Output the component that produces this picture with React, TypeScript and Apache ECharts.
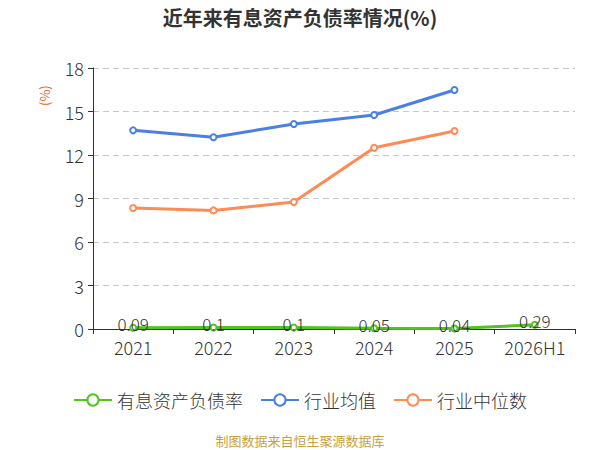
import { useEffect, useRef } from 'react';
import * as echarts from 'echarts';

const categories = ['2021', '2022', '2023', '2024', '2025', '2026H1'];
const debtRatio = [0.09, 0.1, 0.1, 0.05, 0.04, 0.29];
const industryMean = [13.7, 13.22, 14.14, 14.76, 16.48];
const industryMedian = [8.34, 8.18, 8.76, 12.5, 13.66];
const yTicks = { min: 0, max: 18, interval: 3 };

export default function App() {
  const chartRef = useRef<HTMLDivElement | null>(null);

  useEffect(() => {
    if (!chartRef.current) {
      return;
    }
    const chart = echarts.init(chartRef.current, undefined, { renderer: 'svg' });
    const font = '"Microsoft YaHei", "Noto Sans CJK SC", sans-serif';
    chart.setOption({
      animation: false,
      textStyle: { fontFamily: font },
      title: {
        text: '近年来有息资产负债率情况(%)',
        left: 'center',
        top: 2,
        textStyle: { fontSize: 20, fontWeight: 'bold', color: '#333', fontFamily: font },
      },
      grid: { left: 93, right: 25, top: 68, bottom: 121 },
      legend: {
        bottom: 36,
        left: 'center',
        itemWidth: 38,
        itemHeight: 14,
        itemGap: 17,
        textStyle: { fontSize: 18, color: '#333', fontFamily: font, fontWeight: 300 },
        data: ['有息资产负债率', '行业均值', '行业中位数'],
      },
      graphic: [
        {
          type: 'text',
          x: 38,
          y: 106,
          rotation: Math.PI / 2,
          style: { text: '(%)', fill: '#e8622c', fontSize: 13, fontFamily: font },
        },
        {
          type: 'text',
          left: 'center',
          top: 434,
          style: { text: '制图数据来自恒生聚源数据库', fill: '#c9a13c', fontSize: 13, fontFamily: font },
        },
      ],
      xAxis: {
        type: 'category',
        data: categories,
        boundaryGap: true,
        axisLine: { lineStyle: { color: '#333', width: 1 } },
        axisTick: { show: true, alignWithLabel: false, lineStyle: { color: '#333' } },
        axisLabel: { fontSize: 18, color: '#333', margin: 9, fontWeight: 300 },
      },
      yAxis: {
        type: 'value',
        min: yTicks.min,
        max: yTicks.max,
        interval: yTicks.interval,
        axisLine: { show: true, lineStyle: { color: '#333', width: 1 } },
        axisTick: { show: true, lineStyle: { color: '#333' } },
        axisLabel: { fontSize: 18, color: '#333', margin: 9, fontWeight: 300 },
        splitLine: { lineStyle: { color: '#c8c8c8', type: [6, 4] } },
      },
      series: [
        {
          name: '有息资产负债率',
          type: 'line',
          data: debtRatio,
          symbol: 'emptyCircle',
          symbolSize: 6,
          color: '#52c41a',
          lineStyle: { width: 3 },
          label: {
            show: true,
            position: 'inside',
            offset: [0, -4],
            fontSize: 17,
            color: '#333',
            fontWeight: 300,
          },
          z: 5,
        },
        {
          name: '行业均值',
          type: 'line',
          data: industryMean,
          symbol: 'emptyCircle',
          symbolSize: 6,
          color: '#4a7fe3',
          lineStyle: { width: 3 },
        },
        {
          name: '行业中位数',
          type: 'line',
          data: industryMedian,
          symbol: 'emptyCircle',
          symbolSize: 6,
          color: '#ff8a55',
          lineStyle: { width: 3 },
        },
      ],
    });
    return () => chart.dispose();
  }, []);

  return <div ref={chartRef} style={{ position: 'absolute', left: 0, top: 0, width: 600, height: 450 }} />;
}
